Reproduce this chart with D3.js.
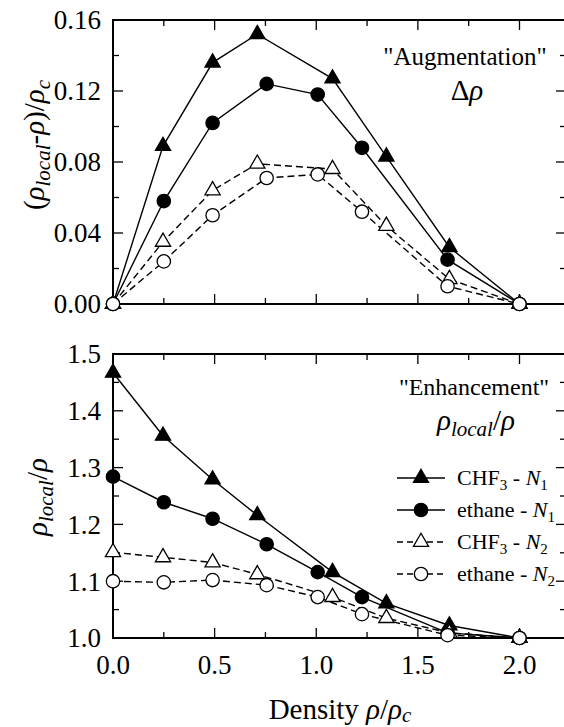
<!DOCTYPE html>
<html>
<head>
<meta charset="utf-8">
<script src="https://cdn.jsdelivr.net/npm/d3@7"></script>
<style>
  body { margin: 0; background: #fff; }
  svg { display: block; }
</style>
</head>
<body>
<div id="viz"></div>
<script>
// densities (rho / rho_c) for each solvent
const xChf3 = [0, 0.246, 0.49, 0.71, 1.08, 1.345, 1.655, 2.0];
const xEthane = [0, 0.25, 0.49, 0.756, 1.007, 1.225, 1.646, 2.0];

// top panel: augmentation (rho_local - rho) / rho_c
const augChf3N1 = [0, 0.089, 0.136, 0.152, 0.127, 0.083, 0.032, 0];
const augEthaneN1 = [0, 0.058, 0.102, 0.124, 0.118, 0.088, 0.025, 0];
const augChf3N2 = [0, 0.035, 0.064, 0.079, 0.076, 0.044, 0.014, 0];
const augEthaneN2 = [0, 0.024, 0.050, 0.071, 0.073, 0.052, 0.010, 0];

// bottom panel: enhancement rho_local / rho
const enhChf3N1 = [1.467, 1.356, 1.279, 1.216, 1.116, 1.061, 1.022, 1.0];
const enhEthaneN1 = [1.284, 1.239, 1.210, 1.165, 1.116, 1.072, 1.009, 1.0];
const enhChf3N2 = [1.151, 1.142, 1.133, 1.112, 1.072, 1.035, 1.009, 1.0];
const enhEthaneN2 = [1.100, 1.098, 1.102, 1.093, 1.072, 1.042, 1.005, 1.0];

const xTicks = [0, 0.5, 1.0, 1.5, 2.0];
const augTicks = [0, 0.04, 0.08, 0.12, 0.16];
const enhTicks = [1.0, 1.1, 1.2, 1.3, 1.4, 1.5];

const series = [
  { name: "CHF3", n: "1", sym: d3.symbolTriangle, filled: true, dashed: false, x: xChf3, aug: augChf3N1, enh: enhChf3N1 },
  { name: "ethane", n: "1", sym: d3.symbolCircle, filled: true, dashed: false, x: xEthane, aug: augEthaneN1, enh: enhEthaneN1 },
  { name: "CHF3", n: "2", sym: d3.symbolTriangle, filled: false, dashed: true, x: xChf3, aug: augChf3N2, enh: enhChf3N2 },
  { name: "ethane", n: "2", sym: d3.symbolCircle, filled: false, dashed: true, x: xEthane, aug: augEthaneN2, enh: enhEthaneN2 }
];

const W = 564, H = 727;
const left = 113, right = 566;

const svg = d3.select("#viz").append("svg")
  .attr("width", W)
  .attr("height", H)
  .attr("font-family", "Liberation Serif");

const x = d3.scaleLinear().domain([0, 2.0]).range([left, 519.5]);
const xMax = x.invert(right);

const yTop = d3.scaleLinear().domain([0, 0.16]).range([304, 20]);
const yBot = d3.scaleLinear().domain([1.0, 1.5]).range([638, 354]);

const symSize = d => d === d3.symbolTriangle ? 100 : 140;

function txt(sel, size) {
  return sel.attr("font-family", "Liberation Serif").attr("font-size", size).attr("fill", "#000");
}

function frame(y, ticks, minorStep, fmt, showX) {
  const g = svg.append("g");
  const [y0, y1] = y.range();
  const yDom = y.domain();

  // ticks on all four sides, pointing inward
  const xMinor = d3.range(0, xMax, 0.25);
  const yMinor = d3.range(yDom[0], yDom[1] + 1e-9, minorStep);
  const isMajorX = v => Math.abs(v * 2 - Math.round(v * 2)) < 1e-6;
  const isMajorY = v => ticks.some(t => Math.abs(t - v) < 1e-6);

  xMinor.forEach(v => {
    const len = isMajorX(v) ? 10 : 6;
    g.append("line").attr("x1", x(v)).attr("x2", x(v)).attr("y1", y0).attr("y2", y0 - len);
    g.append("line").attr("x1", x(v)).attr("x2", x(v)).attr("y1", y1).attr("y2", y1 + len);
  });
  yMinor.forEach(v => {
    const len = isMajorY(v) ? 10 : 6;
    g.append("line").attr("x1", left).attr("x2", left + len).attr("y1", y(v)).attr("y2", y(v));
    g.append("line").attr("x1", right).attr("x2", right - len).attr("y1", y(v)).attr("y2", y(v));
  });
  g.selectAll("line").attr("stroke", "#000").attr("stroke-width", 1.3);

  g.append("rect")
    .attr("x", left).attr("y", y1)
    .attr("width", right - left).attr("height", y0 - y1)
    .attr("fill", "none").attr("stroke", "#000").attr("stroke-width", 2);

  g.selectAll(".ylab").data(ticks).join("text")
    .call(txt, 27)
    .attr("x", left - 12).attr("y", d => y(d)).attr("dy", "0.35em")
    .attr("text-anchor", "end")
    .text(d => d3.format(fmt)(d));

  if (showX) {
    g.selectAll(".xlab").data(xTicks).join("text")
      .call(txt, 27)
      .attr("x", d => x(d)).attr("y", y0 + 36)
      .attr("text-anchor", "middle")
      .text(d => d3.format(".1f")(d));
  }
}

function plotSeries(y, key) {
  series.forEach(s => {
    const pts = s.x.map((xv, i) => [x(xv), y(s[key][i])]);
    svg.append("path")
      .attr("d", d3.line()(pts))
      .attr("fill", "none").attr("stroke", "#000").attr("stroke-width", 1.4)
      .attr("stroke-dasharray", s.dashed ? "7,4" : null);
  });
  series.forEach(s => {
    const sym = d3.symbol().type(s.sym).size(symSize(s.sym));
    s.x.forEach((xv, i) => {
      svg.append("path")
        .attr("d", sym())
        .attr("transform", `translate(${x(xv)},${y(s[key][i])})`)
        .attr("fill", s.filled ? "#000" : "#fff")
        .attr("stroke", "#000").attr("stroke-width", 1.3);
    });
  });
}

frame(yTop, augTicks, 0.02, ".2f", false);
frame(yBot, enhTicks, 0.05, ".1f", true);
plotSeries(yTop, "aug");
plotSeries(yBot, "enh");

function it(t, s) {
  t.append("tspan").attr("font-style", "italic").text(s);
}
function sub(t, s, size, dy, italic = true) {
  t.append("tspan").attr("font-style", italic ? "italic" : null).attr("font-size", size).attr("dy", dy).text(s);
}

// y axis titles
const t1 = svg.append("text").call(txt, 29)
  .attr("transform", `translate(44,145) rotate(-90)`)
  .attr("text-anchor", "middle");
t1.append("tspan").text("(");
it(t1, "ρ");
sub(t1, "local", 21, 6);
t1.append("tspan").attr("dy", -6).text("-");
it(t1, "ρ");
t1.append("tspan").text(")/");
it(t1, "ρ");
sub(t1, "c", 21, 6);

const t2 = svg.append("text").call(txt, 29)
  .attr("transform", `translate(47,497) rotate(-90)`)
  .attr("text-anchor", "middle");
it(t2, "ρ");
sub(t2, "local", 21, 6);
t2.append("tspan").attr("dy", -6).text("/");
it(t2, "ρ");

// x axis title
const t3 = svg.append("text").call(txt, 29)
  .attr("x", 340).attr("y", 719)
  .attr("text-anchor", "middle");
t3.append("tspan").text("Density ");
it(t3, "ρ");
t3.append("tspan").text("/");
it(t3, "ρ");
sub(t3, "c", 21, 3);

// panel annotations
svg.append("text").call(txt, 25).attr("x", 465).attr("y", 65).attr("text-anchor", "middle")
  .text("\"Augmentation\"");
const a2 = svg.append("text").call(txt, 29).attr("x", 467).attr("y", 100).attr("text-anchor", "middle");
a2.append("tspan").text("Δ");
it(a2, "ρ");

svg.append("text").call(txt, 24).attr("x", 474).attr("y", 395).attr("text-anchor", "middle")
  .text("\"Enhancement\"");
const e2 = svg.append("text").call(txt, 29).attr("x", 476).attr("y", 430).attr("text-anchor", "middle");
it(e2, "ρ");
sub(e2, "local", 21, 6);
e2.append("tspan").attr("dy", -6).text("/");
it(e2, "ρ");

// legend
const legend = svg.append("g");
series.forEach((s, i) => {
  const ly = 478 + i * 32;
  legend.append("line")
    .attr("x1", 397).attr("x2", 445).attr("y1", ly).attr("y2", ly)
    .attr("stroke", "#000").attr("stroke-width", 1.4)
    .attr("stroke-dasharray", s.dashed ? "6,4" : null);
  legend.append("path")
    .attr("d", d3.symbol().type(s.sym).size(symSize(s.sym))())
    .attr("transform", `translate(421,${ly})`)
    .attr("fill", s.filled ? "#000" : "#fff")
    .attr("stroke", "#000").attr("stroke-width", 1.3);
  const lt = legend.append("text").call(txt, 22).attr("x", 457).attr("y", ly + 7);
  if (s.name === "CHF3") {
    lt.append("tspan").text("CHF");
    sub(lt, "3", 15, 5, false);
    lt.append("tspan").attr("dy", -5).text(" - ");
  } else {
    lt.append("tspan").text("ethane - ");
  }
  it(lt, "N");
  sub(lt, s.n, 15, 5, false);
});
</script>
</body>
</html>
